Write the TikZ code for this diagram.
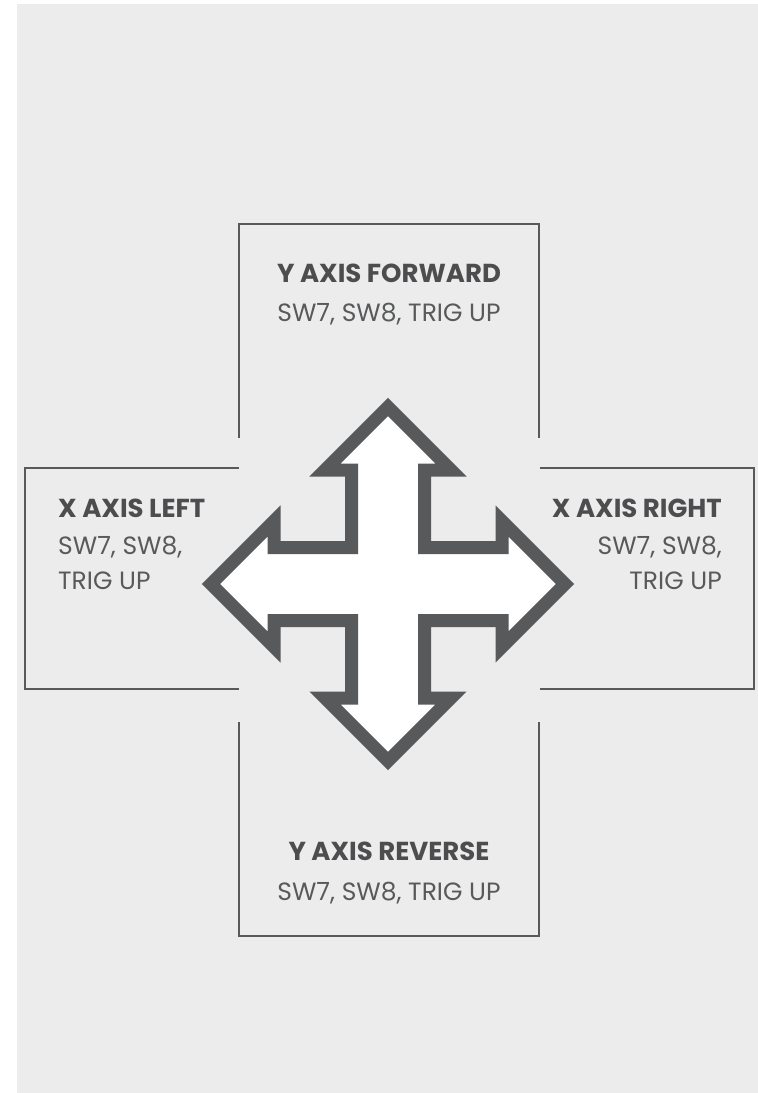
\documentclass[tikz,border=0pt]{standalone}
\usepackage{fontspec}
\setmainfont{Poppins}
\definecolor{bg}{HTML}{ECECEC}
\definecolor{ink}{HTML}{58595B}
\definecolor{txt}{HTML}{4D4D4F}
\begin{document}
\begin{tikzpicture}[x=1pt,y=-1pt,
  boxline/.style={draw=ink,line width=1.3pt},
  arrowshape/.style={draw=ink,fill=white,line width=13pt,line join=miter,miter limit=10},
  ttl/.style={inner sep=0pt,text=txt,font=\fontsize{26}{30}\selectfont\bfseries},
  sub/.style={inner sep=0pt,text=ink,font=\fontsize{25}{30}\selectfont}]
\useasboundingbox (0,0) rectangle (758,1093);
\fill[white] (0,0) rectangle (758,1093);
\fill[bg] (17,4) rectangle (758,1093);
% box corners
\coordinate (t1) at (239,438); \coordinate (t2) at (239,224); \coordinate (t3) at (539,224); \coordinate (t4) at (539,438);
\coordinate (l1) at (239,468); \coordinate (l2) at (25,468); \coordinate (l3) at (25,689); \coordinate (l4) at (239,689);
\coordinate (r1) at (540,468); \coordinate (r2) at (754,468); \coordinate (r3) at (754,689); \coordinate (r4) at (540,689);
\coordinate (b1) at (239,722); \coordinate (b2) at (239,936); \coordinate (b3) at (539,936); \coordinate (b4) at (539,722);
\draw[boxline] (t1) -- (t2) -- (t3) -- (t4);
\draw[boxline] (l1) -- (l2) -- (l3) -- (l4);
\draw[boxline] (r1) -- (r2) -- (r3) -- (r4);
\draw[boxline] (b1) -- (b2) -- (b3) -- (b4);
% four-way arrow
\begin{scope}[shift={(388,584)}]
\def\a{36.5}\def\b{63}\def\h{114}\def\t{177}
\draw[arrowshape] (0,-\t) -- (\b,-\h) -- (\a,-\h) -- (\a,-\a) -- (\h,-\a) -- (\h,-\b) -- (\t,0)
  -- (\h,\b) -- (\h,\a) -- (\a,\a) -- (\a,\h) -- (\b,\h) -- (0,\t)
  -- (-\b,\h) -- (-\a,\h) -- (-\a,\a) -- (-\h,\a) -- (-\h,\b) -- (-\t,0)
  -- (-\h,-\b) -- (-\h,-\a) -- (-\a,-\a) -- (-\a,-\h) -- (-\b,-\h) -- cycle;
\end{scope}
% texts
\node[ttl,anchor=base] (fwdT) at (389,282.5) {Y AXIS FORWARD};
\node[sub,anchor=base] (fwdS) at (389,321.5) {SW7, SW8, TRIG UP};
\node[ttl,anchor=base] (revT) at (389,860.5) {Y AXIS REVERSE};
\node[sub,anchor=base] (revS) at (389,900.5) {SW7, SW8, TRIG UP};
\node[ttl,anchor=base west] (leftT) at (58,517) {X AXIS LEFT};
\node[sub,anchor=base west] (leftS1) at (58,554) {SW7, SW8,};
\node[sub,anchor=base west] (leftS2) at (58,589) {TRIG UP};
\node[ttl,anchor=base east] (rightT) at (722,517) {X AXIS RIGHT};
\node[sub,anchor=base east] (rightS1) at (722,554) {SW7, SW8,};
\node[sub,anchor=base east] (rightS2) at (722,589) {TRIG UP};
\end{tikzpicture}
\end{document}
